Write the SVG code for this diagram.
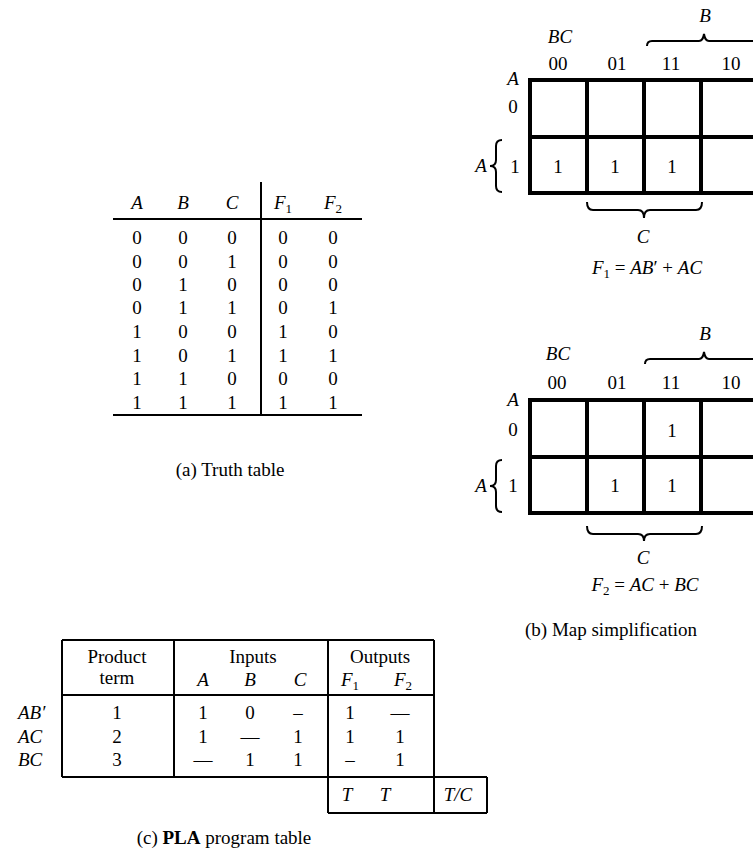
<svg xmlns="http://www.w3.org/2000/svg" width="753" height="863" viewBox="0 0 753 863">
<style>
.t{font-family:"Liberation Serif","Times New Roman",serif;font-size:19px;fill:#000}
.i{font-style:italic}
.m{text-anchor:middle}
.s{font-size:13px}
.b{font-weight:bold}
.thick{stroke:#000;stroke-width:4;fill:none}
.thin{stroke:#000;stroke-width:2;fill:none}
.br{stroke:#000;stroke-width:2;fill:none}
</style>
<rect width="753" height="863" fill="#fff"/>

<g id="truth-table" class="t m">
  <text x="137" y="209" class="i">A</text>
  <text x="183" y="209" class="i">B</text>
  <text x="232" y="209" class="i">C</text>
  <text x="283" y="209"><tspan class="i">F</tspan><tspan class="s" dy="4">1</tspan></text>
  <text x="333" y="209"><tspan class="i">F</tspan><tspan class="s" dy="4">2</tspan></text>
  <path class="thin" d="M113,219 H362 M261,182 V415 M113,415 H362"/>
  <g>
    <text x="137" y="244">0</text><text x="183" y="244">0</text><text x="232" y="244">0</text><text x="283" y="244">0</text><text x="333" y="244">0</text>
    <text x="137" y="268">0</text><text x="183" y="268">0</text><text x="232" y="268">1</text><text x="283" y="268">0</text><text x="333" y="268">0</text>
    <text x="137" y="291">0</text><text x="183" y="291">1</text><text x="232" y="291">0</text><text x="283" y="291">0</text><text x="333" y="291">0</text>
    <text x="137" y="314">0</text><text x="183" y="314">1</text><text x="232" y="314">1</text><text x="283" y="314">0</text><text x="333" y="314">1</text>
    <text x="137" y="338">1</text><text x="183" y="338">0</text><text x="232" y="338">0</text><text x="283" y="338">1</text><text x="333" y="338">0</text>
    <text x="137" y="362">1</text><text x="183" y="362">0</text><text x="232" y="362">1</text><text x="283" y="362">1</text><text x="333" y="362">1</text>
    <text x="137" y="385">1</text><text x="183" y="385">1</text><text x="232" y="385">0</text><text x="283" y="385">0</text><text x="333" y="385">0</text>
    <text x="137" y="409">1</text><text x="183" y="409">1</text><text x="232" y="409">1</text><text x="283" y="409">1</text><text x="333" y="409">1</text>
  </g>
  <text x="230" y="476">(a) Truth table</text>
</g>

<g id="kmap-f1" class="t m">
  <text x="560" y="43" class="i">BC</text>
  <text x="705" y="22" class="i">B</text>
  <path class="br" d="M647,46 Q647,41 652,41 L699,41 Q703,41 704,34 Q705,41 709,41 L756,41"/>
  <text x="558" y="70">00</text><text x="617" y="70">01</text><text x="671" y="70">11</text><text x="731" y="70">10</text>
  <text x="513" y="85" class="i">A</text>
  <text x="513" y="113">0</text>
  <rect class="thick" x="530" y="80" width="228" height="113"/>
  <path class="thick" d="M587,80 V193 M644,80 V193 M701,80 V193 M530,137 H758"/>
  <text x="481" y="172" class="i">A</text>
  <path class="br" d="M502,140 Q496,140 496,146 L496,160 Q496,166 490,166 Q496,166 496,172 L496,186 Q496,192 502,192"/>
  <text x="515" y="173">1</text>
  <text x="558" y="173">1</text><text x="615" y="173">1</text><text x="672" y="173">1</text>
  <path class="br" d="M587,202 Q587,210 593,210 L638,210 Q644,210 644,218 Q644,210 650,210 L696,210 Q702,210 702,202"/>
  <text x="643" y="243" class="i">C</text>
  <text x="647" y="274"><tspan class="i">F</tspan><tspan class="s" dy="4">1</tspan><tspan dy="-4"> = </tspan><tspan class="i">AB</tspan>′ + <tspan class="i">AC</tspan></text>
</g>

<g id="kmap-f2" class="t m">
  <text x="558" y="360" class="i">BC</text>
  <text x="705" y="340" class="i">B</text>
  <path class="br" d="M645,364 Q645,359 650,359 L699,359 Q703,359 704,352 Q705,359 709,359 L756,359"/>
  <text x="557" y="389">00</text><text x="617" y="389">01</text><text x="671" y="389">11</text><text x="731" y="389">10</text>
  <text x="513" y="406" class="i">A</text>
  <text x="513" y="436">0</text>
  <rect class="thick" x="530" y="400" width="228" height="113"/>
  <path class="thick" d="M587,400 V513 M644,400 V513 M701,400 V513 M530,457 H758"/>
  <text x="672" y="437">1</text>
  <text x="481" y="492" class="i">A</text>
  <path class="br" d="M502,460 Q496,460 496,466 L496,480 Q496,486 490,486 Q496,486 496,492 L496,506 Q496,512 502,512"/>
  <text x="513" y="492">1</text>
  <text x="615" y="492">1</text><text x="672" y="492">1</text>
  <path class="br" d="M587,526 Q587,534 593,534 L638,534 Q644,534 644,541 Q644,534 650,534 L696,534 Q702,534 702,526"/>
  <text x="643" y="564" class="i">C</text>
  <text x="645" y="591"><tspan class="i">F</tspan><tspan class="s" dy="4">2</tspan><tspan dy="-4"> = </tspan><tspan class="i">AC</tspan> + <tspan class="i">BC</tspan></text>
  <text x="611" y="636">(b) Map simplification</text>
</g>

<g id="pla-table" class="t m">
  <path class="thin" d="M62,640 H434 M62,640 V777 M434,640 V813 M174,640 V777 M328,640 V813 M62,695 H434 M62,777 H487 M328,813 H487 M487,777 V813"/>
  <text x="117" y="663">Product</text>
  <text x="117" y="684">term</text>
  <text x="253" y="663">Inputs</text>
  <text x="203" y="686" class="i">A</text><text x="250" y="686" class="i">B</text><text x="300" y="686" class="i">C</text>
  <text x="380" y="663">Outputs</text>
  <text x="350" y="686"><tspan class="i">F</tspan><tspan class="s" dy="4">1</tspan></text>
  <text x="403" y="686"><tspan class="i">F</tspan><tspan class="s" dy="4">2</tspan></text>
  <g style="text-anchor:start" class="i">
    <text x="18" y="719">AB′</text>
    <text x="18" y="743">AC</text>
    <text x="18" y="766">BC</text>
  </g>
  <text x="117" y="719">1</text><text x="203" y="719">1</text><text x="250" y="719">0</text><text x="298" y="719">–</text><text x="350" y="719">1</text><text x="400" y="719">—</text>
  <text x="117" y="743">2</text><text x="203" y="743">1</text><text x="250" y="743">—</text><text x="298" y="743">1</text><text x="350" y="743">1</text><text x="400" y="743">1</text>
  <text x="117" y="766">3</text><text x="203" y="766">—</text><text x="250" y="766">1</text><text x="298" y="766">1</text><text x="350" y="766">–</text><text x="400" y="766">1</text>
  <text x="347" y="801" class="i">T</text>
  <text x="385" y="801" class="i">T</text>
  <text x="458" y="801" class="i">T/C</text>
  <text x="224" y="844">(c) <tspan class="b">PLA</tspan> program table</text>
</g>
</svg>
